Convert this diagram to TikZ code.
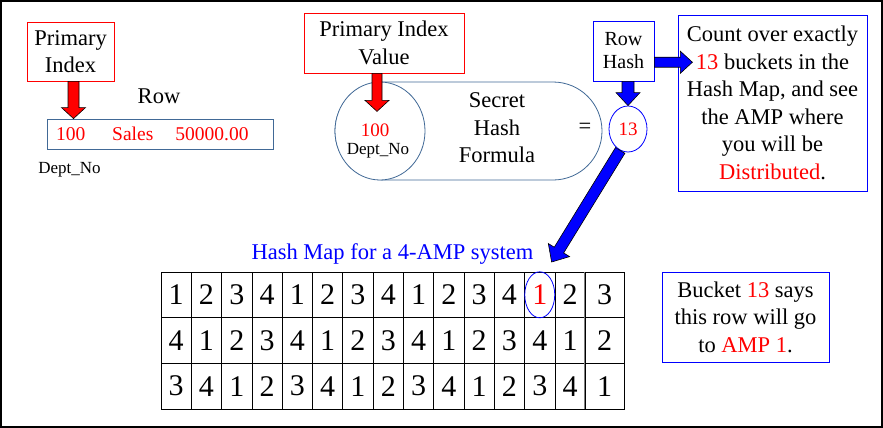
\documentclass[tikz,border=0pt]{standalone}
\usepackage{fontspec}
\setmainfont{Liberation Serif}
\usetikzlibrary{calc,shapes.geometric}
\definecolor{rowblue}{RGB}{65,105,150}
\definecolor{mapblue}{RGB}{0,0,255}

% fill, start, tip, shaft half width, head half width, head length
\newcommand{\blockarrow}[6]{%
  \coordinate (hb) at ($(#3)!#6!(#2)$);
  \filldraw[fill=#1, draw=black, line width=0.6pt, line join=miter]
    ($(#2)!#4!-90:(#3)$) -- ($(hb)!#4!90:(#2)$) -- ($(hb)!#5!90:(#2)$) -- (#3)
    -- ($(hb)!#5!-90:(#2)$) -- ($(hb)!#4!-90:(#2)$) -- ($(#2)!#4!90:(#3)$) -- cycle;
}

\begin{document}
\begin{tikzpicture}[x=1pt, y=-1pt,
  txt/.style={font=\fontsize{22.5}{27.5}\selectfont},
  lbl/.style={inner sep=0pt, align=center},
  redbox/.style={draw=red, line width=0.8pt, align=center, inner sep=0pt},
  bluebox/.style={draw=mapblue, line width=0.8pt, align=center, inner sep=0pt},
  cell/.style={draw, line width=0.7pt, inner sep=0pt, minimum height=45.7pt,
    font=\fontsize{30}{30}\selectfont}]
  \useasboundingbox (0,0) rectangle (883,428);
  \draw[line width=1.5pt] (1,1) rectangle (882,427);

  % row and its primary index
  \node[redbox, txt, minimum width=87pt, minimum height=59pt] (pi) at (70.5,51.5) {Primary\\Index};
  \node[lbl, txt] (rowlbl) at (159,96) {Row};
  \node[draw=rowblue, line width=0.8pt, text=red, font=\fontsize{19.5}{22}\selectfont,
    text width=208pt, inner xsep=9pt, inner ysep=0pt, minimum height=30pt, align=left]
    (row) at (160,134) {100\hspace{27pt}Sales\hspace{22pt}50000.00};
  \node[lbl, font=\fontsize{17}{20}\selectfont] (dept) at (69.5,170) {Dept\_No};

  % hash formula
  \node[redbox, txt, minimum width=160pt, minimum height=60pt] (piv) at (384,43) {Primary Index\\Value};
  \draw[rowblue, line width=0.8pt, rounded corners=49pt] (335,82) rectangle (602,180);
  \node[ellipse, draw=rowblue, fill=white, line width=0.8pt, minimum width=90pt,
    minimum height=98pt, inner sep=0pt] (circ) at (380,131) {};
  \node[lbl, text=red, font=\fontsize{19}{22}\selectfont] (dval) at (375,130) {100};
  \node[lbl, font=\fontsize{17}{20}\selectfont] (dname) at (378,151) {Dept\_No};
  \node[lbl, txt] (formula) at (497,128) {Secret\\Hash\\Formula};
  \node[lbl, txt] (eq) at (585,128) {=};
  \node[ellipse, draw=mapblue, line width=0.8pt, minimum width=38pt, minimum height=46pt,
    inner sep=0pt, text=red, font=\fontsize{19}{22}\selectfont] (hv) at (628,129) {13};
  \node[bluebox, font=\fontsize{20}{23}\selectfont, minimum width=61pt, minimum height=60pt]
    (rh) at (623.5,51) {Row\\Hash};
  \node[bluebox, txt, minimum width=189pt, minimum height=176pt] (cnt) at (772.5,103)
    {Count over exactly\\\textcolor{red}{13} buckets in the\\Hash Map, and see\\the AMP where\\you will be\\\textcolor{red}{Distributed}.};

  % hash map
  \node[lbl, txt, text=mapblue] (hmlbl) at (392.5,254) {Hash Map for a 4-AMP system};
  \foreach \r in {0,1,2} {
    \foreach \c in {0,...,14} {
      \pgfmathtruncatemacro\n{mod(15*\r+\c,4)+1}
      \pgfmathsetmacro\w{\c==14 ? 39 : 30.3}
      \pgfmathsetmacro\cx{161+30.3*\c+\w/2}
      \def\col{black}
      \ifnum\r=0 \ifnum\c=12 \def\col{red}\fi\fi
      \node[cell, minimum width=\w pt, text=\col] (c-\r-\c) at (\cx, 294.8+45.7*\r) {\n};
    }
  }
  \draw[gray, line width=1.2pt] (c-0-14.north west) -- (c-2-14.south west);
  \node[ellipse, draw=mapblue, line width=0.8pt, minimum width=30pt, minimum height=46pt,
    inner sep=0pt] (b13) at (c-0-12) {};
  \node[bluebox, txt, minimum width=167pt, minimum height=90pt] (bkt) at (745.5,317)
    {Bucket \textcolor{red}{13} says\\this row will go\\to \textcolor{red}{AMP 1}.};

  % arrows
  \coordinate (pis) at ($(pi.south)+(3,0)$);
  \coordinate (pit) at (pis |- row.north);
  \blockarrow{red}{pis}{pit}{5.5pt}{12pt}{11pt}
  \coordinate (pvs) at ($(piv.south)+(-7,0)$);
  \coordinate (pvt) at ($(pvs)+(0,38)$);
  \blockarrow{red}{pvs}{pvt}{5pt}{12pt}{11pt}
  \coordinate (rhs) at (rh.south -| hv.north);
  \blockarrow{mapblue}{rhs}{hv.north}{6pt}{12pt}{13pt}
  \coordinate (rhe) at ($(rh.east)!0.37!(rh.south east)$);
  \coordinate (rht) at ($(rhe)+(38,0)$);
  \blockarrow{mapblue}{rhe}{rht}{5pt}{11pt}{12pt}
  \coordinate (hmtip) at ($(hmlbl.east)+(18,8)$);
  \blockarrow{mapblue}{hv.250}{hmtip}{5.5pt}{12.5pt}{14pt}
\end{tikzpicture}
\end{document}
